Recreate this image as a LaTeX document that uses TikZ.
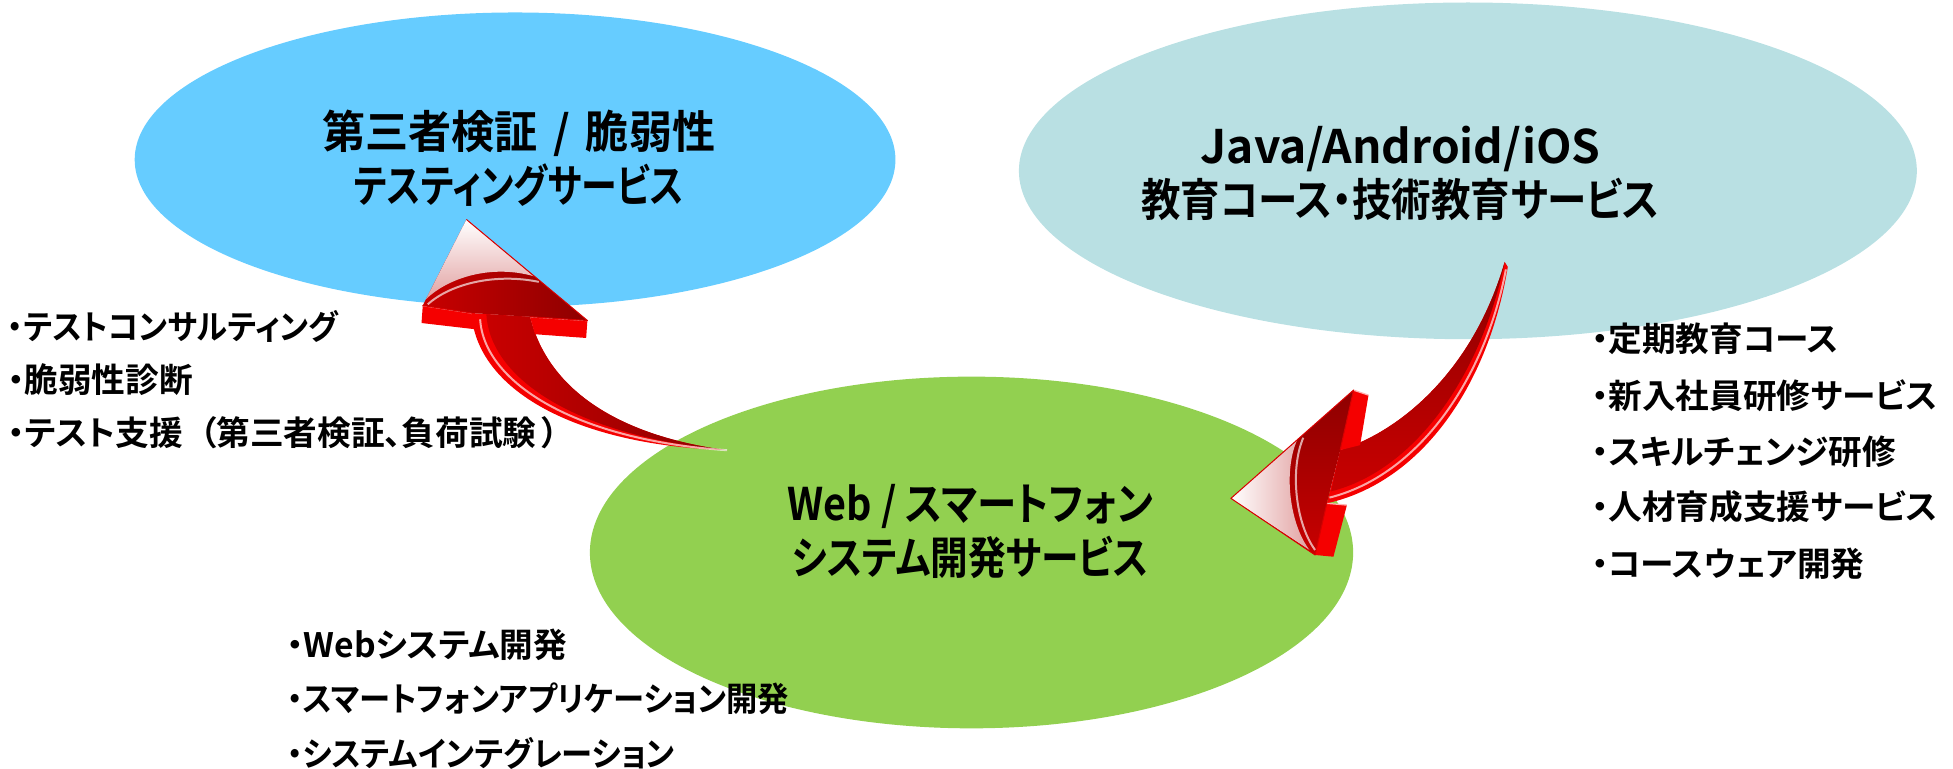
\documentclass[tikz,border=0pt]{standalone}
\usepackage{fontspec}
\newfontfamily\jp{Noto Sans CJK JP}[UprightFont=* Bold,RawFeature=+palt]
\newfontfamily\jpn{Noto Sans CJK JP}[UprightFont=* Bold,RawFeature=+palt,FakeStretch=0.93]
\newfontfamily\jpt{Noto Sans CJK JP}[UprightFont=* Bold,RawFeature=+palt,FakeStretch=0.88]
\newfontfamily\jptk{Noto Sans CJK JP}[UprightFont=* Bold,RawFeature=+palt,FakeStretch=0.8]
\newfontfamily\jptm{Noto Sans CJK JP}[UprightFont=* Bold,RawFeature=+palt,FakeStretch=0.84]
\newfontfamily\jptw{Noto Sans CJK JP}[UprightFont=* Bold,RawFeature=+palt,FakeStretch=0.96]
\definecolor{ellblue}{HTML}{66CCFF}
\definecolor{ellteal}{HTML}{B9E0E3}
\definecolor{ellgreen}{HTML}{92D050}
\definecolor{arrside}{HTML}{F50000}
\definecolor{arrlight}{HTML}{C80000}
\definecolor{arrdark}{HTML}{8E0000}
\definecolor{arrpink}{HTML}{E2A2A2}
\tikzset{
  titletext/.style={align=center,inner sep=0pt,font=\jpt\fontsize{36}{43}\selectfont},
  listtext/.style={anchor=west,inner sep=0pt,font=\jp\fontsize{27}{32}\selectfont},
  listnarrow/.style={listtext,font=\jpn\fontsize{27}{32}\selectfont},
  sidefill/.style={fill=arrside},
  glint/.style={draw=white,opacity=0.65,line width=1.6pt},
  headline/.style={draw=red!85!black,line width=0.8pt,line join=round}
}
\begin{document}
\begin{tikzpicture}[x=1pt,y=-1pt]
\useasboundingbox (0,0) rectangle (1566,616);
% ellipses
\fill[ellblue] (413,128) ellipse [x radius=305, y radius=118];
\fill[ellteal] (1177,137) ellipse [x radius=360, y radius=135];
\fill[ellgreen] (779,443) ellipse [x radius=306, y radius=141];

% ---------- left arrow (green -> blue) ----------
\coordinate (LT) at (374,176);
\coordinate (LHL) at (339,245);
\coordinate (LHR) at (471,257);
\coordinate (LNL) at (378,251);
\coordinate (LNR) at (425,254);
\coordinate (LHLd) at (338,259);
\coordinate (LHRd) at (470,271);
\coordinate (LNLd) at (381,264);
\coordinate (LNRd) at (429,268);
\coordinate (LTail) at (583,361);
\fill[sidefill] (LNL) .. controls (382,312) and (460,357) .. (LTail)
   .. controls (500,350) and (440,315) .. (LNR) -- cycle;
\shade[left color=arrlight,right color=arrdark] (390,252) .. controls (393,305) and (465,350) .. (LTail)
   .. controls (500,350) and (440,315) .. (LNR) -- cycle;
\draw[glint] (385,256) .. controls (388,307) and (462,353) .. (LTail);
\fill[sidefill] (LHL) -- (LNL) -- (LNLd) -- (LHLd) -- cycle;
\fill[sidefill] (LNR) -- (LHR) -- (LHRd) -- (LNRd) -- cycle;
\draw[draw=red!30!white,line width=1pt] (LHL) -- (LNL) (LNR) -- (LHR);
\shade[left color=arrlight,right color=arrdark] (LT) -- (LHR) -- (LNR) -- (LNL) -- (LHL) -- cycle;
\shade[top color=white,bottom color=arrpink] (LT) -- (341.5,240) .. controls (360,222) and (395,212) .. (428,221.5) -- cycle;
\draw[glint] (343,244) .. controls (362,227) and (398,219) .. (432,226);
\draw[headline] (LT) -- (LHR) -- (LNR) (LNL) -- (LHL) -- cycle;

% ---------- right arrow (teal -> green) ----------
\coordinate (RT) at (987,399.6);
\coordinate (RU) at (1085.3,312.8);
\coordinate (RUd) at (1097.3,316.8);
\coordinate (RL) at (1054.5,445);
\coordinate (RLd) at (1069.2,446.4);
\coordinate (RNU) at (1074.6,360.9);
\coordinate (RNUd) at (1090.6,356.9);
\coordinate (RNL) at (1063.9,403.6);
\coordinate (RNLd) at (1080,405);
\coordinate (RTail) at (1206.5,210);
\fill[sidefill] (RNU) .. controls (1125,345) and (1182,295) .. (RTail)
   -- (1209,214) .. controls (1194,306) and (1142,386) .. (RNL) -- cycle;
\shade[top color=arrdark,bottom color=arrlight] (RNU) .. controls (1125,345) and (1182,295) .. (RTail)
   .. controls (1188,300) and (1135,377) .. (1067.3,394) -- cycle;
\draw[glint] (1207.5,216) .. controls (1191,303) and (1138,381) .. (1066,399);
\fill[sidefill] (RU) -- (RUd) -- (RNUd) -- (RNU) -- cycle;
\fill[sidefill] (RNL) -- (RNLd) -- (RLd) -- (RL) -- cycle;
\draw[draw=red!30!white,line width=1pt] (RU) -- (RUd) (RNL) -- (RNLd);
\shade[top color=arrdark,bottom color=arrlight] (RT) -- (RU) -- (RNU) -- (RNL) -- (RL) -- cycle;
\shade[left color=white,right color=arrpink] (RT) -- (1040,353) .. controls (1029,378) and (1034,420) .. (1050,441) -- cycle;
\draw[glint] (1045,351) .. controls (1034,377) and (1039,420) .. (1054.5,441);
\draw[headline] (RNU) -- (RU) -- (RT) -- (RL) -- (RNL);

% ---------- titles ----------
\node[titletext] (tblue) at (416,127) {{\jptw 第三者検証\hspace{0.35em}/\hspace{0.35em}脆弱性}\\{\jptk テスティングサービス}};
\node[titletext] (tteal) at (1123,139) {{\jp\fontsize{37}{43}\selectfont Java/Android/iOS}\\教育コース・技術教育サービス};
\node[titletext] (tgreen) at (778,426) {Web / スマートフォン\\{\jptm システム開発サービス}};

% ---------- lists ----------
\node[listnarrow] (a1) at (6,262) {・テストコンサルティング};
\node[listtext] (a2) at (6,304) {・脆弱性診断};
\node[listtext] (a3) at (6,347) {・テスト支援\hspace{0.5em}（第三者検証、負荷試験\hspace{0.15em}）};
\node[listtext] (b1) at (1276,272) {・定期教育コース};
\node[listtext] (b2) at (1276,317) {・新入社員研修サービス};
\node[listtext] (b3) at (1276,362) {・スキルチェンジ研修};
\node[listtext] (b4) at (1276,406) {・人材育成支援サービス};
\node[listtext] (b5) at (1276,452) {・コースウェア開発};
\node[listtext] (c1) at (230,517) {・Webシステム開発};
\node[listnarrow] (c2) at (230,560) {・スマートフォンアプリケーション開発};
\node[listnarrow] (c3) at (230,604) {・システムインテグレーション};
\end{tikzpicture}
\end{document}
